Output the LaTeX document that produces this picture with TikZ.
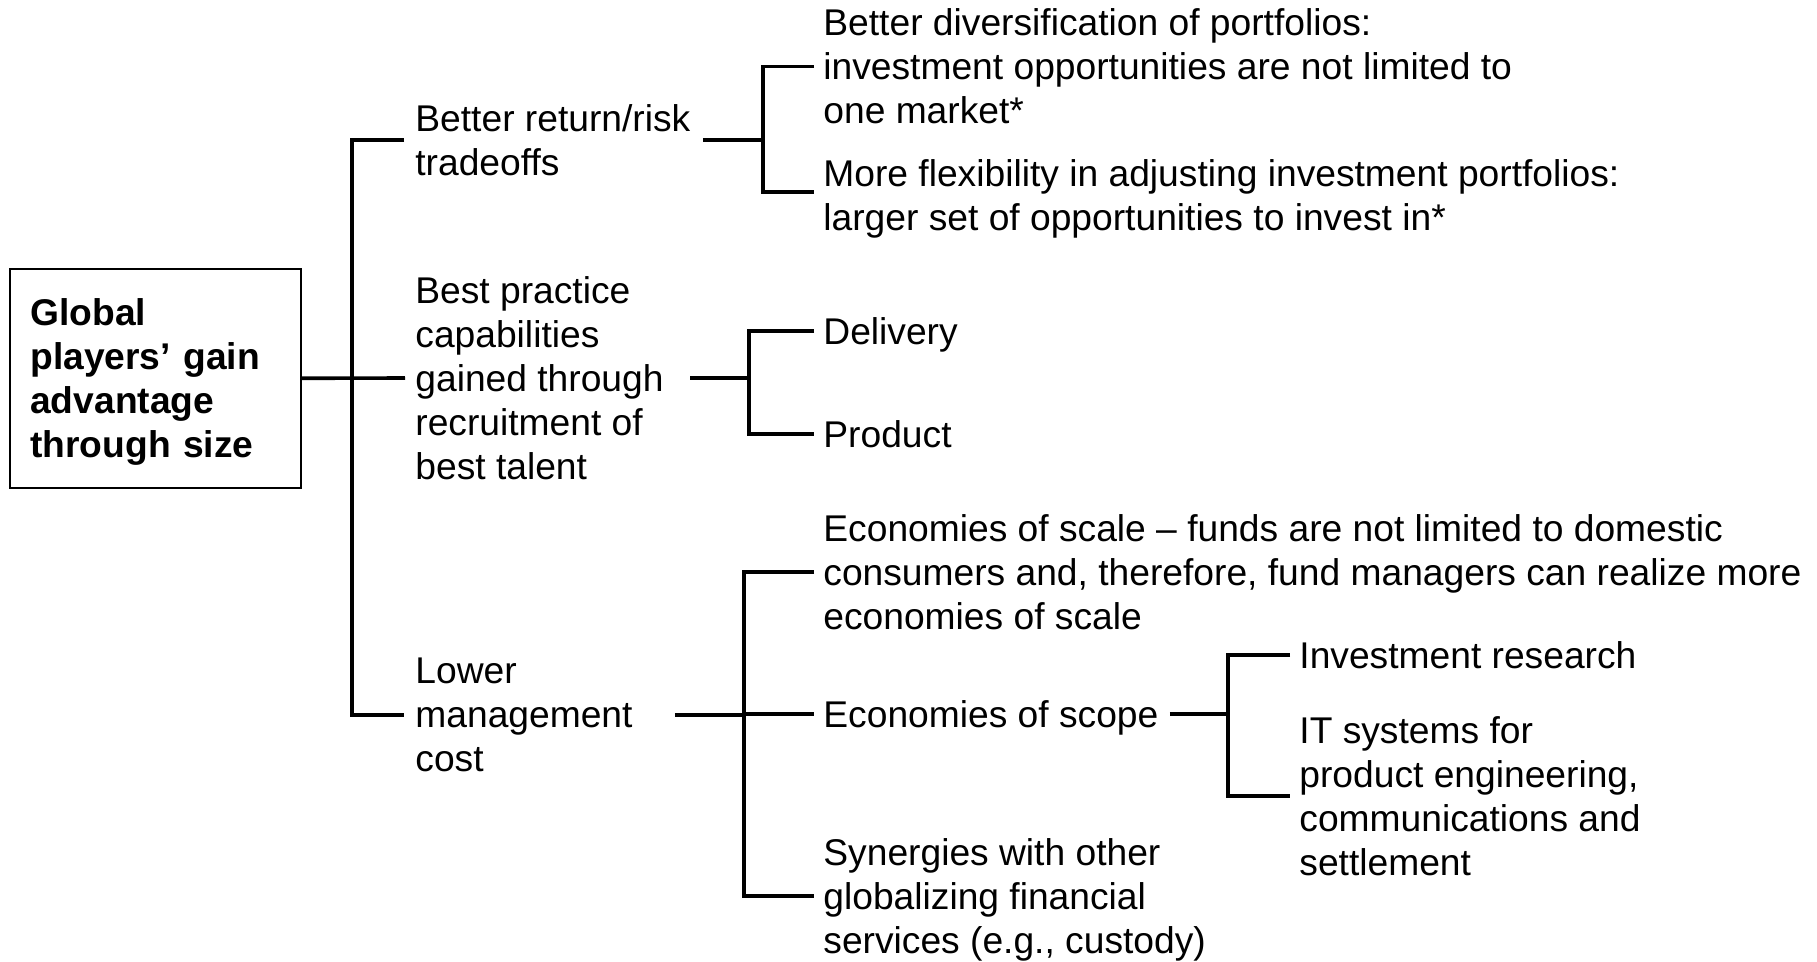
\documentclass[tikz,border=0pt]{standalone}
\usepackage{fontspec}
\setmainfont{Liberation Sans}
\usetikzlibrary{positioning,calc}

\begin{document}
\begin{tikzpicture}[x=0.5pt,y=-0.5pt,
  item/.style={anchor=west,align=left,inner sep=0pt,font=\fontsize{18.6}{22}\selectfont},
  leaf/.style={item,text depth=0pt},
  link/.style={line width=1.8pt}]
\useasboundingbox (0,0) rectangle (1817,962);

% root
\node[draw,line width=0.8pt,anchor=north west,minimum width=145.5pt,minimum height=109.5pt,
  text width=125pt,inner xsep=10pt,align=left,text depth=66pt,font=\fontsize{18.6}{22}\selectfont\bfseries]
  (root) at (9,268) {Global\\players’ gain\\advantage\\through size};

% first level
\node[item] (ret) at (415,140) {Better return/risk\\tradeoffs};
\node[item] (best) at (415,378) {Best practice\\capabilities\\gained through\\recruitment of\\best talent};
\node[item] (low) at (415,715) {Lower\\management\\cost};

% second level
\node[item] (div) at (823,66.5) {Better diversification of portfolios:\\investment opportunities are not limited to\\one market*};
\node[item] (flex) at (823,199) {More flexibility in adjusting investment portfolios:\\larger set of opportunities to invest in*};
\node[leaf] (deliv) at (823,331) {Delivery};
\node[leaf] (prod) at (823,434) {Product};
\node[item] (scale) at (823,572) {Economies of scale -- funds are not limited to domestic\\consumers and, therefore, fund managers can realize more\\economies of scale};
\node[leaf] (scope) at (823,714) {Economies of scope};
\node[item] (syn) at (823,899.5) {Synergies with other\\globalizing financial\\services (e.g., custody)};

% third level
\node[leaf] (res) at (1299,655) {Investment research};
\node[item] (its) at (1299,796) {IT systems for\\product engineering,\\communications and\\settlement};

% buses
\coordinate (b0) at (352,0);
\coordinate (b1) at (763,0);
\coordinate (b2) at (749,0);
\coordinate (b3) at (744,0);
\coordinate (b4) at (1228,0);

% connectors
\draw[link] (root.east) -- ([xshift=-5pt]best.west);
\draw[link,shorten <=5.5pt,shorten >=5.5pt] (ret.west) -| (b0 |- low.west) -- (low.west);

\draw[link,shorten <=6pt] (ret.east) -- (ret.east -| b1);
\draw[link,shorten <=4.5pt,shorten >=4.5pt] (div.west) -| ([yshift=3.5pt]b1 |- flex.west) -- ([yshift=3.5pt]flex.west);

\draw[link,shorten <=13pt] (best.east) -- (best.east -| b2);
\draw[link,shorten <=4.5pt,shorten >=4.5pt] (deliv.west) -| (b2 |- prod.west) -- (prod.west);

\draw[link,shorten <=21pt] (low.east) -- (low.east -| b3);
\draw[link,shorten <=4.5pt,shorten >=4.5pt] (scale.west) -| ([yshift=1.75pt]b3 |- syn.west) -- ([yshift=1.75pt]syn.west);
\draw[link,shorten >=4.5pt] (b3 |- scope.west) -- (scope.west);

\draw[link,shorten <=5.5pt] (scope.east) -- (scope.east -| b4);
\draw[link,shorten <=4.5pt,shorten >=4.5pt] (res.west) -| (b4 |- its.west) -- (its.west);
\end{tikzpicture}
\end{document}
